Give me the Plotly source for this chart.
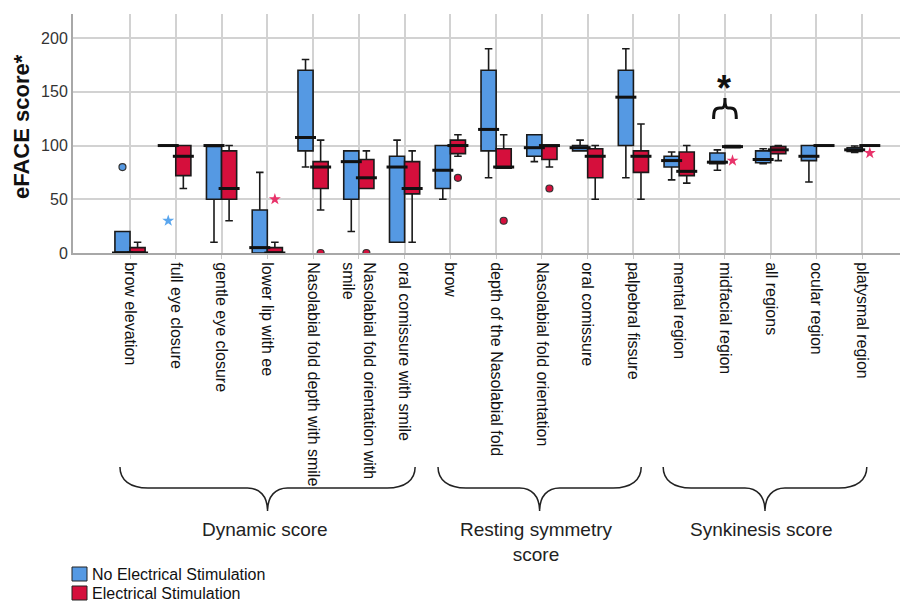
import plotly.graph_objects as go
import numpy as np

# ---------------- data ----------------
categories = [
    "brow elevation", "full eye closure", "gentle eye closure", "lower lip with ee",
    "Nasolabial fold depth with smile", "Nasolabial fold orientation with smile",
    "oral comissure with smile", "brow", "depth of the Nasolabial fold",
    "Nasolabial fold orientation", "oral comissure", "palpebral fissure",
    "mental region", "midfacial region", "all regions", "ocular region", "platysmal region",
]
tick_labels = [
    "brow elevation", "full eye closure", "gentle eye closure", "lower lip with ee",
    "Nasolabial fold depth with smile", "Nasolabial fold orientation with<br>smile",
    "oral comissure with smile", "brow", "depth of the Nasolabial fold",
    "Nasolabial fold orientation", "oral comissure", "palpebral fissure",
    "mental region", "midfacial region", "all regions", "ocular region", "platysmal region",
]

# No Electrical Stimulation
no_es_low = [0, 100, 10, 0, 80, 20, 10, 50, 70, 85, 95, 70, 68, 77, 83, 66, 93.5]
no_es_q1 = [0, 100, 50, 0, 95, 50, 10, 60, 95, 90, 95, 100, 80, 83, 84, 86, 94.5]
no_es_med = [0, 100, 100, 5, 107.5, 85, 80, 77, 115, 98, 98, 145, 86, 84.5, 87, 90, 96]
no_es_q3 = [20, 100, 100, 40, 170, 95, 90, 100, 170, 110, 100, 170, 90, 93, 95, 100, 98]
no_es_high = [20, 100, 100, 75, 180, 95, 105, 100, 190, 110, 105, 190, 94, 96, 97, 100, 99.5]

# Electrical Stimulation
es_low = [0, 60, 30, 0, 40, 60, 10, 90, 79, 80, 50, 50, 65, 98, 86, 100, 100]
es_q1 = [0, 72, 50, 0, 60, 60, 55, 92.5, 79, 87, 70, 75, 72, 98, 92.5, 100, 100]
es_med = [0, 90, 60, 0, 80, 70, 60, 100, 80, 100, 90, 90, 76, 99, 96, 100, 100]
es_q3 = [5, 100, 95, 5, 85, 87, 85, 105, 97, 100, 97, 95, 94, 100, 99, 100, 100]
es_high = [10, 100, 100, 10, 105, 95, 95, 110, 110, 100, 100, 120, 100, 100, 100, 100, 100]

# outliers (category index, value)
no_es_circle_idx = [0]
no_es_circle_val = [80]
no_es_star_idx = [1]
no_es_star_val = [30]
es_circle_idx = [4, 5, 7, 8, 9]
es_circle_val = [0, 0, 70, 30, 60]
es_star_idx = [3, 13, 16]
es_star_val = [50, 86, 93]

group_labels = ["Dynamic score", "Resting symmetry<br>score", "Synkinesis score"]
group_spans = [(-0.22, 6.23), (6.73, 11.17), (11.65, 16.1)]

series_names = ["No Electrical Stimulation", "Electrical Stimulation"]
BLUE = "#5599e3"
RED = "#d50f3c"
BLUE_STAR = "#5aa6ee"
RED_STAR = "#e8336a"

# ---------------- geometry ----------------
# the page body has an 8px margin, so the figure is drawn 8px in from the window edge
OX, OY = 8, 8
W, H = 900, 594
ML, MR, MT, MB = 65, 0, 6, 349
XMIN, XMAX = -1.246, 17.0
YMIN, YMAX = 0, 222.4
BOXW = 0.33

pos = np.arange(len(categories))
off = BOXW / 2
x_blue = pos - off
x_red = pos + off

pw = W - ML - MR
ph = H - MT - MB


def px2paper(px, py):
    # px, py given in window pixels
    fx, fy = px - OX, py - OY
    return (fx - ML) / pw, (H - MB - fy) / ph


def idx2px(i):
    return OX + ML + (i - XMIN) / (XMAX - XMIN) * pw


FONT = "Liberation Sans, Arial, sans-serif"

fig = go.Figure()

for xs, lo, q1, md, q3, hi, col, name in [
    (x_blue, no_es_low, no_es_q1, no_es_med, no_es_q3, no_es_high, BLUE, series_names[0]),
    (x_red, es_low, es_q1, es_med, es_q3, es_high, RED, series_names[1]),
]:
    fig.add_trace(go.Box(
        x=xs, q1=q1, median=md, q3=q3, lowerfence=lo, upperfence=hi,
        width=BOXW, fillcolor=col, line=dict(color="#1a1a1a", width=1.6),
        whiskerwidth=0.5, boxpoints=False, name=name, showlegend=False,
        hoverinfo="skip",
    ))
    fig.add_trace(go.Scatter(
        x=xs, y=md, mode="markers", showlegend=False, hoverinfo="skip",
        marker=dict(symbol="line-ew", size=15, color="#111",
                    line=dict(width=3, color="#111")),
    ))

# outliers
fig.add_trace(go.Scatter(
    x=pos[no_es_circle_idx] - off, y=no_es_circle_val, mode="markers", showlegend=False,
    marker=dict(symbol="circle", size=7, color=BLUE, line=dict(width=1.2, color="#333")),
))
fig.add_trace(go.Scatter(
    x=pos[no_es_star_idx] - off, y=no_es_star_val, mode="markers", showlegend=False,
    marker=dict(symbol="star", size=9, color=BLUE_STAR, line=dict(width=0)),
))
fig.add_trace(go.Scatter(
    x=pos[es_circle_idx] + off, y=es_circle_val, mode="markers", showlegend=False,
    marker=dict(symbol="circle", size=7, color=RED, line=dict(width=1.2, color="#333")),
))
fig.add_trace(go.Scatter(
    x=pos[es_star_idx] + off, y=es_star_val, mode="markers", showlegend=False,
    marker=dict(symbol="star", size=9, color=RED_STAR, line=dict(width=0)),
))

shapes = []
annotations = []

# group braces
for (a, b), lab in zip(group_spans, group_labels):
    x0, x1 = idx2px(a), idx2px(b)
    xc = (x0 + x1) / 2
    ytop, ymid, ytip = 467, 488, 511
    pts = [
        ("M", [(x0, ytop)]),
        ("C", [(x0, ymid - 8), (x0 + 10, ymid), (x0 + 28, ymid)]),
        ("L", [(xc - 20, ymid)]),
        ("C", [(xc - 8, ymid), (xc, ymid + 8), (xc, ytip)]),
        ("C", [(xc, ymid + 8), (xc + 8, ymid), (xc + 20, ymid)]),
        ("L", [(x1 - 28, ymid)]),
        ("C", [(x1 - 10, ymid), (x1, ymid - 8), (x1, ytop)]),
    ]
    path = ""
    for cmd, ps in pts:
        path += cmd + " " + " ".join("%.5f,%.5f" % px2paper(px, py) for px, py in ps) + " "
    shapes.append(dict(type="path", xref="paper", yref="paper", path=path.strip(),
                       line=dict(color="#222", width=1.5)))
    cx, _ = px2paper(xc - 3, 0)
    _, cy = px2paper(0, 517)
    annotations.append(dict(x=cx, y=cy, xref="paper", yref="paper", text=lab,
                            showarrow=False, xanchor="center", yanchor="top",
                            font=dict(family=FONT, size=19, color="#222")))

# significance bracket for midfacial region
mi = categories.index("midfacial region")
bx0 = idx2px(mi - off * 1.5)
bx1 = idx2px(mi + off * 1.5)
bc = (bx0 + bx1) / 2
bpts = [
    ("M", [(bx0, 119)]),
    ("C", [(bx0, 111), (bx0 + 1, 108), (bx0 + 6, 108)]),
    ("L", [(bc - 3, 108)]),
    ("C", [(bc - 1, 108), (bc, 106), (bc, 98)]),
    ("C", [(bc, 106), (bc + 1, 108), (bc + 3, 108)]),
    ("L", [(bx1 - 6, 108)]),
    ("C", [(bx1 - 1, 108), (bx1, 111), (bx1, 119)]),
]
bpath = ""
for cmd, ps in bpts:
    bpath += cmd + " " + " ".join("%.5f,%.5f" % px2paper(px, py) for px, py in ps) + " "
shapes.append(dict(type="path", xref="paper", yref="paper", path=bpath.strip(),
                   line=dict(color="#111", width=3)))
sx, sy = px2paper(bc - 1, 111)
annotations.append(dict(x=sx, y=sy, xref="paper", yref="paper", text="<b>*</b>",
                        showarrow=False, xanchor="center", yanchor="bottom",
                        font=dict(family=FONT, size=36, color="#111")))

# custom legend
for k, (name, col) in enumerate(zip(series_names, [BLUE, RED])):
    y0 = 567 + k * 19
    ax0, ay0 = px2paper(72, y0)
    ax1, ay1 = px2paper(87, y0 + 14)
    shapes.append(dict(type="rect", xref="paper", yref="paper", x0=ax0, x1=ax1,
                       y0=ay1, y1=ay0, fillcolor=col, line=dict(color="#222", width=1)))
    tx, ty = px2paper(90, y0 + 7)
    annotations.append(dict(x=tx, y=ty, xref="paper", yref="paper", text=name,
                            showarrow=False, xanchor="left", yanchor="middle",
                            font=dict(family=FONT, size=16, color="#111")))

# y-axis title
tx, ty = px2paper(22, 127)
annotations.append(dict(x=tx, y=ty, xref="paper", yref="paper", text="<b>eFACE score*</b>",
                        textangle=-90, showarrow=False, xanchor="center", yanchor="middle",
                        font=dict(family=FONT, size=22, color="#111")))

fig.update_layout(
    width=W, height=H,
    margin=dict(l=ML, r=MR, t=MT, b=MB, pad=0, autoexpand=False),
    paper_bgcolor="white", plot_bgcolor="white",
    showlegend=False,
    font=dict(family=FONT, size=16, color="#222"),
    shapes=shapes, annotations=annotations,
)
fig.update_xaxes(
    range=[XMIN, XMAX], tickmode="array", tickvals=pos, ticktext=tick_labels,
    tickangle=90, showgrid=True, gridcolor="#d2d2d2", gridwidth=1.5,
    showline=True, linecolor="#a8a8a8", linewidth=2, zeroline=False,
    ticks="outside", ticklen=4, tickcolor="#c8c8c8", automargin=False,
    tickfont=dict(family=FONT, size=16, color="#111"),
)
fig.update_yaxes(
    range=[YMIN, YMAX], tickmode="array", tickvals=[0, 50, 100, 150, 200],
    showgrid=True, gridcolor="#d2d2d2", gridwidth=1.5,
    showline=True, linecolor="#a8a8a8", linewidth=2, zeroline=False,
    ticks="", automargin=False, tickfont=dict(family=FONT, size=16, color="#333"),
)

fig.write_html("out.html")
